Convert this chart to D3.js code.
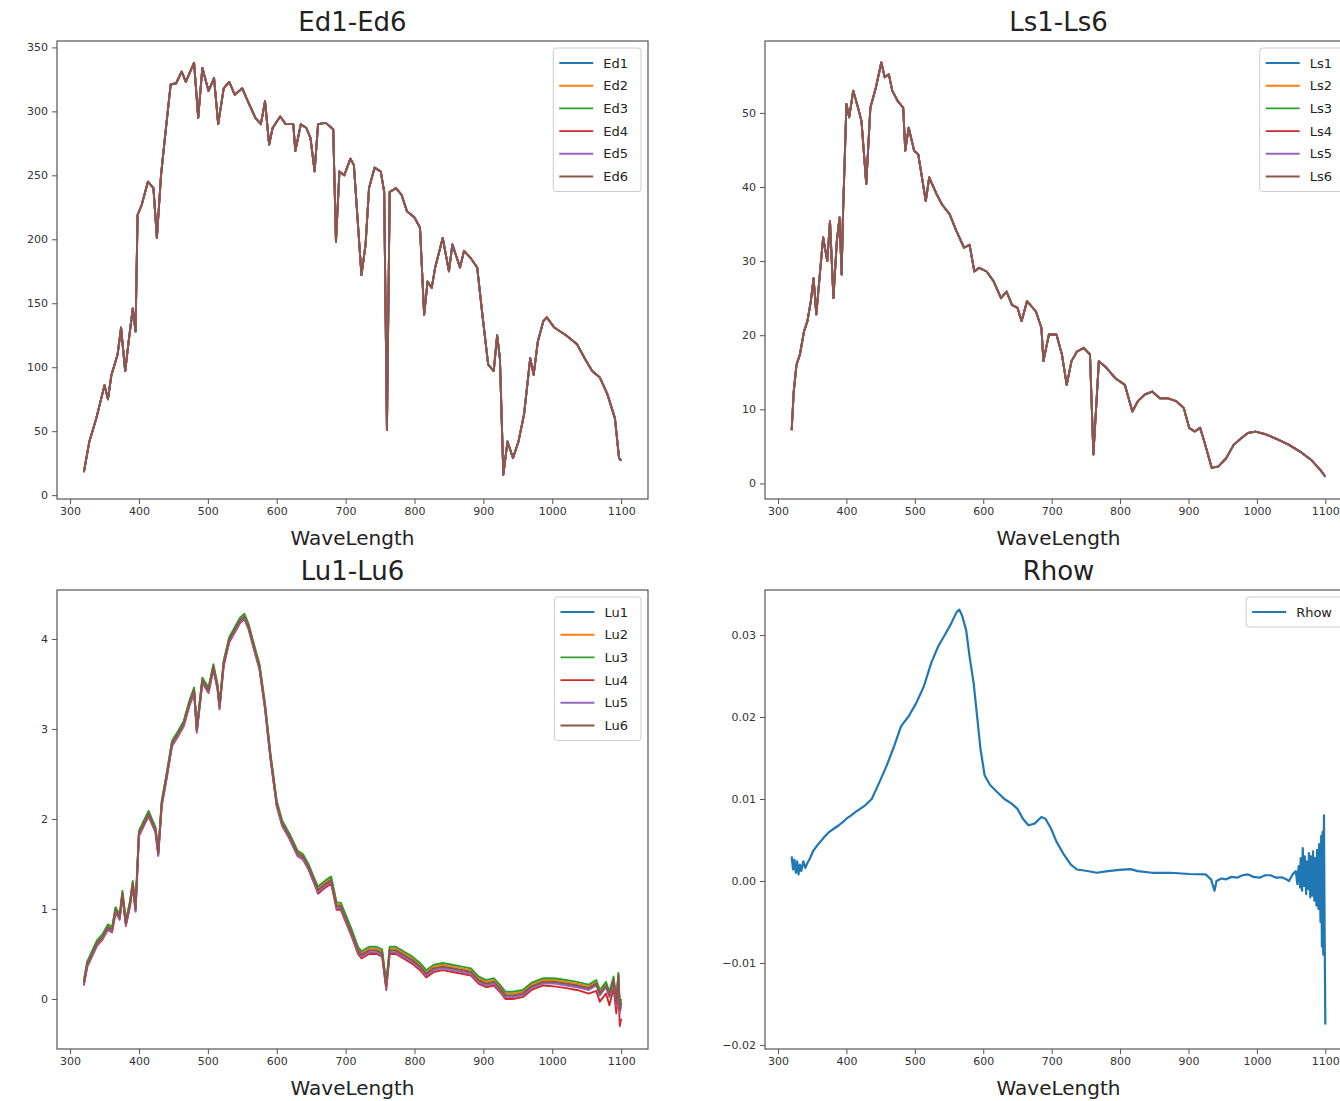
<!DOCTYPE html>
<html><head><meta charset="utf-8">
<script src="https://cdn.jsdelivr.net/npm/d3@7"></script>
<style>body{margin:0;background:#fff;overflow:hidden} text{font-family:"DejaVu Sans",sans-serif;}</style>
</head><body><svg id="c" width="1340" height="1101"></svg>
<script>
// ---------- data ----------
const xTickValues = [300,400,500,600,700,800,900,1000,1100];
const colors = ["#1f77b4","#ff7f0e","#2ca02c","#d62728","#9467bd","#8c564b"];

const edNames = ["Ed1","Ed2","Ed3","Ed4","Ed5","Ed6"];
const edWl = [320,328,338,350,355,360,369,374,380,385,391,395,398,404,413,421,426,432,437,446,454,462,468,480,486,492,501,509,515,523,531,539,550,558,569,577,583,589,594,605,613,624,627,635,643,649,655,660,671,682,686,691,698,707,712,718,723,729,734,742,751,756,760,764,773,781,789,800,808,814,819,825,830,841,850,855,866,872,882,891,899,907,915,920,924,929,935,943,951,959,968,973,979,987,992,1003,1020,1036,1047,1058,1069,1080,1091,1097,1100];
const edVal = [18,42,60,86,75,94,110,131,97,120,146,128,219,227,245,240,201,250,276,321,322,331,323,338,295,334,316,326,290,318,323,313,318,308,295,290,308,274,287,296,290,290,269,290,287,279,253,290,291,286,198,253,250,263,258,211,172,196,240,256,253,237,51,237,240,235,222,217,209,141,167,162,178,201,175,196,178,191,185,178,139,102,97,125,107,16,42,29,42,63,107,94,120,136,139,131,125,118,107,97,92,79,60,29,27];
const edTicks = [0,50,100,150,200,250,300,350];

const lsNames = ["Ls1","Ls2","Ls3","Ls4","Ls5","Ls6"];
const lsWl = [320,323,327,332,338,343,348,352,356,362,366,372,376,381,386,390,393,395,400,404,410,417,422,429,435,443,451,456,462,467,475,483,486,491,499,505,516,521,532,540,551,561,572,580,587,594,605,615,626,634,642,650,656,664,677,685,688,696,707,715,722,729,737,747,756,761,769,780,793,807,818,826,836,847,858,869,882,893,901,909,917,923,934,944,955,966,977,987,998,1014,1031,1047,1063,1079,1093,1100];
const lsVal = [7.2,12.4,16.0,17.4,20.5,21.9,24.6,27.7,22.8,29.1,33.2,30.0,35.4,25.0,32.7,35.9,28.2,36.3,51.2,49.4,53.0,50.7,48.9,40.4,50.7,53.4,56.8,54.8,55.2,53.0,51.6,50.7,44.9,48.0,44.9,44.4,38.1,41.3,39.0,37.6,36.3,34.0,31.8,32.2,28.6,29.1,28.6,27.3,25.0,25.9,24.1,23.7,21.9,24.6,23.2,21.0,16.5,20.1,20.1,17.4,13.3,16.5,17.8,18.3,17.4,3.9,16.5,15.6,14.2,13.3,9.7,11.1,12.0,12.4,11.5,11.5,11.1,10.2,7.5,7.0,7.5,5.7,2.1,2.3,3.4,5.2,6.1,6.8,7.0,6.6,5.9,5.2,4.3,3.2,1.8,0.9];
const lsTicks = [0,10,20,30,40,50];

const luNames = ["Lu1","Lu2","Lu3","Lu4","Lu5","Lu6"];
const luWl = [320,325,330,339,347,355,361,366,372,376,381,387,391,395,400,407,414,420,424,428,433,440,448,457,465,473,480,484,492,501,508,514,517,523,531,539,547,553,559,567,575,583,591,600,608,619,630,638,646,654,660,671,679,687,693,701,709,718,723,734,745,753,759,764,773,784,797,808,817,828,841,855,869,882,893,904,915,924,932,943,957,970,987,1003,1020,1036,1053,1064,1069,1078,1083,1089,1093,1096,1098,1100];
const lu1Val = [0.18,0.39,0.47,0.62,0.69,0.80,0.77,0.99,0.91,1.17,0.84,1.06,1.28,1.00,1.84,1.95,2.06,1.95,1.88,1.62,2.17,2.47,2.84,2.95,3.06,3.28,3.43,2.99,3.54,3.43,3.69,3.47,3.25,3.73,3.99,4.10,4.21,4.25,4.14,3.91,3.69,3.25,2.69,2.17,1.95,1.80,1.62,1.58,1.47,1.32,1.21,1.28,1.32,1.03,1.03,0.88,0.73,0.54,0.49,0.54,0.54,0.51,0.14,0.54,0.54,0.49,0.43,0.36,0.28,0.34,0.36,0.34,0.32,0.30,0.21,0.17,0.19,0.12,0.04,0.04,0.06,0.14,0.19,0.19,0.17,0.15,0.12,0.17,0.06,0.15,0.04,0.21,-0.05,0.26,-0.12,-0.04];
const lu2Val = [0.20,0.41,0.49,0.64,0.71,0.82,0.79,1.01,0.93,1.19,0.86,1.08,1.30,1.02,1.86,1.97,2.08,1.97,1.90,1.64,2.19,2.49,2.86,2.97,3.08,3.30,3.45,3.01,3.56,3.45,3.71,3.49,3.27,3.75,4.01,4.12,4.23,4.27,4.16,3.93,3.71,3.27,2.71,2.19,1.97,1.82,1.64,1.60,1.49,1.34,1.23,1.30,1.34,1.05,1.05,0.90,0.75,0.56,0.51,0.56,0.56,0.53,0.16,0.56,0.56,0.51,0.45,0.38,0.30,0.36,0.38,0.36,0.34,0.32,0.23,0.19,0.21,0.14,0.06,0.06,0.08,0.16,0.21,0.21,0.19,0.17,0.14,0.19,0.08,0.17,0.06,0.23,-0.03,0.28,-0.10,-0.02];
const lu3Val = [0.21,0.42,0.50,0.65,0.72,0.83,0.80,1.02,0.94,1.20,0.87,1.09,1.31,1.03,1.87,1.98,2.09,1.98,1.91,1.65,2.20,2.50,2.87,2.98,3.09,3.31,3.46,3.02,3.57,3.46,3.72,3.50,3.28,3.76,4.02,4.13,4.24,4.28,4.17,3.94,3.72,3.28,2.72,2.20,1.98,1.83,1.65,1.61,1.50,1.35,1.25,1.32,1.36,1.07,1.07,0.92,0.77,0.58,0.53,0.58,0.58,0.55,0.18,0.58,0.58,0.53,0.47,0.40,0.32,0.38,0.40,0.38,0.36,0.34,0.25,0.21,0.23,0.16,0.08,0.08,0.10,0.18,0.23,0.23,0.21,0.19,0.16,0.21,0.10,0.19,0.08,0.25,0.00,0.29,-0.07,0.00];
const lu4Val = [0.15,0.36,0.44,0.59,0.66,0.77,0.74,0.96,0.88,1.14,0.81,1.03,1.25,0.97,1.81,1.92,2.03,1.92,1.85,1.59,2.14,2.44,2.81,2.92,3.03,3.25,3.40,2.96,3.51,3.40,3.66,3.44,3.22,3.70,3.96,4.07,4.18,4.22,4.11,3.88,3.66,3.22,2.66,2.14,1.92,1.77,1.59,1.55,1.44,1.29,1.17,1.24,1.28,0.99,0.99,0.84,0.69,0.50,0.45,0.50,0.50,0.47,0.10,0.50,0.50,0.45,0.39,0.32,0.24,0.30,0.32,0.30,0.28,0.26,0.17,0.13,0.15,0.08,0.00,0.00,0.02,0.10,0.15,0.14,0.12,0.10,0.06,0.09,-0.03,0.06,-0.07,0.12,-0.16,0.14,-0.30,-0.22];
const lu5Val = [0.16,0.37,0.45,0.60,0.67,0.78,0.75,0.97,0.89,1.15,0.82,1.04,1.26,0.98,1.82,1.93,2.04,1.93,1.86,1.60,2.15,2.45,2.82,2.93,3.04,3.26,3.41,2.97,3.52,3.41,3.67,3.45,3.23,3.71,3.97,4.08,4.19,4.23,4.12,3.89,3.67,3.23,2.67,2.15,1.93,1.78,1.60,1.56,1.45,1.30,1.19,1.26,1.30,1.01,1.01,0.86,0.71,0.52,0.47,0.52,0.52,0.49,0.12,0.52,0.52,0.47,0.41,0.34,0.26,0.32,0.34,0.32,0.30,0.28,0.19,0.15,0.17,0.10,0.02,0.02,0.04,0.12,0.17,0.17,0.15,0.13,0.10,0.15,0.04,0.13,0.02,0.19,-0.08,0.24,-0.16,-0.08];
const lu6Val = [0.18,0.39,0.47,0.62,0.69,0.80,0.77,0.99,0.91,1.17,0.84,1.06,1.28,1.00,1.84,1.95,2.06,1.95,1.88,1.62,2.17,2.47,2.84,2.95,3.06,3.28,3.43,2.99,3.54,3.43,3.69,3.47,3.25,3.73,3.99,4.10,4.21,4.25,4.14,3.91,3.69,3.25,2.69,2.17,1.95,1.80,1.62,1.58,1.47,1.32,1.21,1.28,1.32,1.03,1.03,0.88,0.73,0.54,0.49,0.54,0.54,0.51,0.14,0.54,0.54,0.49,0.43,0.36,0.28,0.34,0.36,0.34,0.32,0.30,0.21,0.17,0.19,0.12,0.04,0.04,0.06,0.14,0.19,0.19,0.17,0.15,0.12,0.17,0.06,0.15,0.04,0.21,-0.05,0.26,-0.12,-0.04];
const luTicks = [0,1,2,3,4];

const rhowNames = ["Rhow"];
const rhowWl = [320,322,324,326,328,330,332,334,337,340,343,347,351,356,362,368,375,382,389,395,400,407,413,420,427,437,448,459,470,480,491,502,513,524,534,545,553,561,565,569,575,580,586,591,596,602,610,621,631,642,650,658,666,675,685,691,699,707,718,728,737,750,766,782,799,815,826,847,874,901,925,933,938,941,948,955,963,971,979,987,995,1004,1012,1020,1028,1036,1043,1047,1052,1057,1059,1061,1063,1064,1066,1067,1069,1070,1072,1073,1075,1076,1078,1079,1081,1082,1084,1085,1087,1088,1090,1091,1093,1094,1095,1096,1097,1098,1099,1100];
const rhowVal = [0.0030,0.0014,0.0026,0.0010,0.0024,0.0008,0.0020,0.0012,0.0024,0.0016,0.0022,0.0028,0.0036,0.0042,0.0048,0.0054,0.0060,0.0064,0.0068,0.0072,0.0076,0.0080,0.0084,0.0088,0.0092,0.0100,0.0120,0.0141,0.0165,0.0189,0.0201,0.0217,0.0237,0.0266,0.0286,0.0302,0.0314,0.0328,0.0331,0.0324,0.0306,0.0274,0.0241,0.0201,0.0161,0.0129,0.0117,0.0108,0.0100,0.0094,0.0088,0.0076,0.0068,0.0070,0.0078,0.0076,0.0064,0.0048,0.0032,0.0020,0.0014,0.00125,0.0010,0.0012,0.00135,0.00145,0.0012,0.0010,0.0010,0.00085,0.0008,0.0002,-0.0012,0.0000,0.0003,0.0002,0.0005,0.0004,0.0007,0.0008,0.0005,0.0004,0.0007,0.0007,0.0004,0.00045,0.0002,0.0000,0.0008,0.0012,-0.0004,0.0018,-0.0008,0.0028,-0.0012,0.0040,-0.0006,0.0030,-0.0016,0.0024,-0.0010,0.0034,-0.0020,0.0030,-0.0018,0.0036,-0.0024,0.0028,-0.0030,0.0038,-0.0034,0.0045,-0.0050,0.0055,-0.0080,0.0060,-0.0090,0.0080,-0.0060,-0.0175];
const rhowTicks = [-0.02,-0.01,0.00,0.01,0.02,0.03];

// ---------- chart ----------
const svg = d3.select("#c");
const spine = "#555", tickText = "#333";

function toPts(wl, vals){ return wl.map((w,i)=>[w, vals[i]]); }

function panel(cfg){
  const {left, top, right, bottom} = cfg;
  const x = d3.scaleLinear().domain([281,1139]).range([left,right]);
  const y = d3.scaleLinear().domain(cfg.yDomain).range([bottom,top]);
  const g = svg.append("g");
  const cid = "clip" + cfg.id;
  svg.append("clipPath").attr("id", cid).append("rect")
    .attr("x", left).attr("y", top).attr("width", right-left).attr("height", bottom-top);

  const line = d3.line().x(d=>x(d[0])).y(d=>y(d[1]));
  const lg = g.append("g").attr("clip-path", `url(#${cid})`);
  cfg.series.forEach(s=>{
    lg.append("path").datum(toPts(s.wl, s.vals))
      .attr("fill","none").attr("stroke", s.color).attr("stroke-width", cfg.lw || 1.9)
      .attr("stroke-linejoin","round").attr("d", line);
  });

  const xa = d3.axisBottom(x).tickValues(xTickValues).tickSize(5).tickPadding(3).tickFormat(d3.format("d"));
  const xg = g.append("g").attr("transform",`translate(0,${bottom})`).call(xa);
  const ya = d3.axisLeft(y).tickValues(cfg.yTicks).tickSize(5).tickPadding(4).tickFormat(cfg.fmt);
  const yg = g.append("g").attr("transform",`translate(${left},0)`).call(ya);
  [xg,yg].forEach(a=>{
    a.select(".domain").remove();
    a.selectAll(".tick line").attr("stroke", spine).attr("stroke-width",1);
    a.selectAll(".tick text").attr("fill", tickText).style("font-size","11px").style("font-family","DejaVu Sans");
  });
  g.append("rect").attr("x",left).attr("y",top).attr("width",right-left).attr("height",bottom-top)
    .attr("fill","none").attr("stroke",spine).attr("stroke-width",1.2);

  const cx = (left+right)/2;
  g.append("text").attr("x",cx).attr("y",top-10).attr("text-anchor","middle")
    .style("font-size","26px").attr("fill","#222").text(cfg.title);
  g.append("text").attr("x",cx).attr("y",bottom+46).attr("text-anchor","middle")
    .style("font-size","20px").attr("fill","#222").text("WaveLength");

  const lgG = g.append("g");
  const box = lgG.append("rect");
  const fs = 13, sp = 22.7;
  let maxW = 0;
  const items = cfg.series.map((s,i)=>{
    const yy = top + 22 + i*sp;
    const t = lgG.append("text").attr("y", yy).attr("dy","0.35em").style("font-size", fs+"px").attr("fill","#222").text(s.name);
    maxW = Math.max(maxW, t.node().getComputedTextLength());
    const l = lgG.append("line").attr("y1",yy).attr("y2",yy).attr("stroke",s.color).attr("stroke-width",cfg.lw || 1.9);
    return {t,l};
  });
  const bw = 49 + maxW + 14;
  const bl = right - 7 - bw;
  box.attr("x",bl).attr("y",top+7).attr("width",bw).attr("height", 30 + (cfg.series.length-1)*sp)
    .attr("rx",3).attr("fill","#fff").attr("fill-opacity",0.8).attr("stroke","#ccc");
  items.forEach(it=>{
    it.l.attr("x1",bl+6).attr("x2",bl+40);
    it.t.attr("x",bl+50);
  });
}

const intF = d3.format("d");
const minusF = f => d => f(d).replace("-", "\u2212");

panel({id:1, left:57, top:41, right:648, bottom:499, yDomain:[-3,355], yTicks:edTicks, fmt:intF, title:"Ed1-Ed6",
  series: edNames.map((n,i)=>({name:n, wl:edWl, vals:edVal, color:colors[i]}))});
panel({id:2, left:765, top:41, right:1352, bottom:499, yDomain:[-2.1,59.7], yTicks:lsTicks, fmt:intF, title:"Ls1-Ls6",
  series: lsNames.map((n,i)=>({name:n, wl:lsWl, vals:lsVal, color:colors[i]}))});
const luSeriesVals = [lu1Val, lu2Val, lu3Val, lu4Val, lu5Val, lu6Val];
panel({id:3, left:57, top:590, right:648, bottom:1049, yDomain:[-0.556,4.544], yTicks:luTicks, fmt:intF, title:"Lu1-Lu6",
  series: luNames.map((n,i)=>({name:n, wl:luWl, vals:luSeriesVals[i], color:colors[i]}))});
panel({id:4, left:765, top:590, right:1352, bottom:1049, yDomain:[-0.0205,0.0355], yTicks:rhowTicks, fmt:minusF(d3.format(".2f")), title:"Rhow", lw:2.2,
  series: rhowNames.map((n,i)=>({name:n, wl:rhowWl, vals:rhowVal, color:colors[i]}))});
</script>
</body></html>
